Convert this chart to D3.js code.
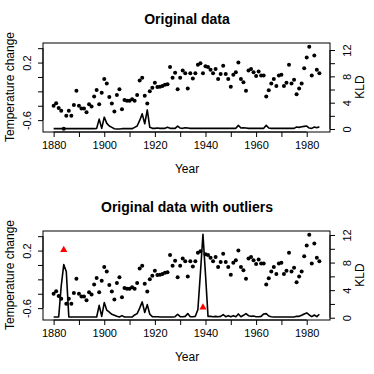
<!DOCTYPE html>
<html>
<head>
<meta charset="utf-8">
<script src="https://cdn.jsdelivr.net/npm/d3@7"></script>
<style>
  body { margin: 0; background: #fff; }
  text { font-family: "Liberation Sans", Arial, sans-serif; }
</style>
</head>
<body>
<div id="chart"></div>
<script>
// data
var years = d3.range(1880, 1986);
var temp = [
  -0.40, -0.365, -0.43, -0.47, -0.72, -0.54, -0.47, -0.54, -0.39, -0.19,
  -0.40, -0.44, -0.44, -0.49, -0.38, -0.41, -0.27, -0.18, -0.38, -0.22,
  -0.03, -0.09, -0.28, -0.37, -0.48, -0.25, -0.17, -0.45, -0.32, -0.33,
  -0.33, -0.31, -0.33, -0.25, -0.05, -0.01, -0.26, -0.37, -0.20, -0.15,
  -0.08, -0.14, -0.135, -0.125, -0.11, -0.10, 0.14, -0.01, 0.06, -0.17,
  -0.01, 0.09, 0.05, -0.16, 0.05, -0.02, 0.05, 0.17, 0.19, 0.05,
  0.15, 0.14, 0.10, 0.05, 0.11, -0.03, 0.04, 0.155, 0.04, -0.03,
  -0.135, 0.03, 0.065, 0.20, -0.03, -0.075, -0.19, 0.09, 0.11, 0.065,
  0.015, 0.075, 0.02, 0.02, -0.27, -0.185, -0.09, -0.03, -0.125, 0.02,
  0.03, -0.125, -0.08, 0.17, -0.09, -0.04, -0.24, -0.16, -0.09, 0.12,
  0.27, 0.42, 0.02, 0.30, 0.10, 0.05
];
var kldTop = [
  0.05, 0.05, 0.05, 0.05, 0.05, 0.05, 0.05, 0.05, 0.05, 0.05,
  0.05, 0.05, 0.05, 0.05, 0.05, 0.05, 0.05, 0.1, 1.5, 0.1,
  1.8, 0.86, 0.46, 0.25, 0.05, 0.0, 0.0, 0.05, 0.05, 0.05,
  0.05, 0.05, 0.25, 0.46, 1.3, 2.3, 0.8, 2.9, 0.26, 0.1,
  0.1, 0.15, 0.1, 0.1, 0.1, 0.25, 0.1, 0.1, 0.1, 0.45,
  0.15, 0.1, 0.2, 0.15, 0.1, 0.1, 0.1, 0.1, 0.1, 0.1,
  0.1, 0.1, 0.1, 0.1, 0.1, 0.1, 0.1, 0.1, 0.1, 0.1,
  0.1, 0.1, 0.1, 0.55, 0.15, 0.2, 0.15, 0.1, 0.1, 0.1,
  0.1, 0.1, 0.1, 0.1, 0.55, 0.15, 0.1, 0.1, 0.1, 0.1,
  0.1, 0.1, 0.1, 0.1, 0.1, 0.1, 0.3, 0.25, 0.35, 0.4,
  0.45, 0.15, 0.1, 0.3, 0.2, 0.35
];
var kldBottom = [
  0.1, 0.1, 0.1, 4.6, 7.7, 6.7, 0.1, 0.1, 0.1, 0.1,
  0.1, 0.1, 0.1, 0.1, 0.1, 0.1, 0.1, 0.1, 1.8, 0.2,
  2.2, 1.1, 0.8, 0.5, 0.35, 0.2, 0.1, 0.3, 0.1, 0.1,
  0.1, 0.1, 0.4, 0.6, 1.4, 2.3, 0.75, 1.9, 0.5, 0.15,
  0.15, 0.15, 0.1, 0.1, 0.1, 0.1, 0.1, 0.1, 0.15, 0.5,
  0.15, 0.15, 0.2, 0.6, 0.15, 0.15, 0.2, 1.2, 6.5, 12.1,
  6.3, 0.2, 0.2, 0.15, 0.2, 0.15, 0.2, 0.45, 0.15, 0.3,
  0.15, 0.3, 0.15, 0.55, 0.15, 0.35, 0.6, 0.3, 0.2, 0.25,
  0.15, 0.15, 0.2, 0.55, 0.6, 0.25, 0.15, 0.1, 0.1, 0.1,
  0.1, 0.1, 0.1, 0.1, 0.1, 0.1, 0.2, 0.2, 0.35, 0.55,
  0.7, 0.4, 0.15, 0.4, 0.15, 0.5
];
var outlierYears = [1884, 1939];
var outlierValues = [0.21, -0.59];

var xTicks = d3.range(1880, 1990, 10);
var xLabels = [1880, 1900, 1920, 1940, 1960, 1980];
var tempTicks = [-0.6, -0.4, -0.2, 0, 0.2, 0.4];
var tempLabels = [-0.6, 0.2];
var kldTicks = [0, 2, 4, 6, 8, 10, 12];
var kldLabels = [0, 4, 8, 12];

var W = 374, H = 374;
var svg = d3.select("#chart").append("svg")
    .attr("width", W).attr("height", H);

var x = d3.scaleLinear().domain([1875.8, 1989.2]).range([43, 330]);

function panel(top, title, kld, kldDomain, withOutliers) {
  var bottom = top + 89;
  var yT = d3.scaleLinear().domain([-0.765, 0.472]).range([bottom, top]);
  var yK = d3.scaleLinear().domain(kldDomain).range([bottom, top]);
  var g = svg.append("g");

  // title
  g.append("text").attr("x", 187).attr("y", top - 19)
    .attr("text-anchor", "middle").style("font-weight", "bold").style("font-size", "14px")
    .text(title);

  // box
  g.append("rect").attr("x", 43).attr("y", top).attr("width", 287).attr("height", 89)
    .attr("fill", "none").attr("stroke", "#000").attr("stroke-width", 1);

  // x axis
  var ax = g.append("g").attr("transform", "translate(0," + (bottom + 0) + ")")
    .call(d3.axisBottom(x).tickValues(xTicks).tickSize(5).tickPadding(4)
      .tickFormat(function(d) { return xLabels.indexOf(d) >= 0 ? d : ""; }));
  ax.select(".domain").remove();
  ax.append("line").attr("x1", x(1880)).attr("x2", x(1980)).attr("stroke", "#000");
  ax.selectAll("text").style("font-size", "11px").attr("fill", "#000")
    .style("font-family", "Liberation Sans, Arial, sans-serif");
  g.append("text").attr("x", 187).attr("y", bottom + 41)
    .attr("text-anchor", "middle").style("font-size", "12px").text("Year");

  // left axis
  var al = g.append("g").attr("transform", "translate(43,0)")
    .call(d3.axisLeft(yT).tickValues(tempTicks).tickSize(5).tickPadding(3)
      .tickFormat(function(d) { return tempLabels.indexOf(d) >= 0 ? d3.format(".1f")(d).replace("−", "-") : ""; }));
  al.select(".domain").remove();
  al.append("line").attr("y1", yT(-0.6)).attr("y2", yT(0.4)).attr("stroke", "#000");
  al.selectAll(".tick text")
    .attr("transform", "rotate(-90)").attr("x", 0).attr("dy", 0).attr("y", -12)
    .attr("text-anchor", "middle").style("font-size", "11px").attr("fill", "#000")
    .style("font-family", "Liberation Sans, Arial, sans-serif");
  g.append("text").attr("transform", "translate(14," + (top + 44) + ") rotate(-90)")
    .attr("text-anchor", "middle").style("font-size", "12px").text("Temperature change");

  // right axis
  var ar = g.append("g").attr("transform", "translate(330,0)")
    .call(d3.axisRight(yK).tickValues(kldTicks).tickSize(5)
      .tickFormat(function(d) { return kldLabels.indexOf(d) >= 0 ? d : ""; }));
  ar.select(".domain").remove();
  ar.append("line").attr("y1", yK(0)).attr("y2", yK(12)).attr("stroke", "#000");
  ar.selectAll(".tick text")
    .attr("transform", "rotate(-90)").attr("x", 0).attr("dy", 0).attr("y", 21)
    .attr("text-anchor", "middle").style("font-size", "11px").attr("fill", "#000")
    .style("font-family", "Liberation Sans, Arial, sans-serif");
  g.append("text").attr("transform", "translate(364," + (top + 44) + ") rotate(-90)")
    .attr("text-anchor", "middle").style("font-size", "12px").text("KLD");

  // KLD line
  var line = d3.line().x(function(d, i) { return x(years[i]); }).y(function(d) { return yK(d); });
  g.append("path").datum(kld).attr("d", line)
    .attr("fill", "none").attr("stroke", "#000").attr("stroke-width", 1.6)
    .attr("stroke-linejoin", "round");

  // points
  var pts = years.map(function(yr, i) { return { yr: yr, v: temp[i] }; })
    .filter(function(d) { return !withOutliers || outlierYears.indexOf(d.yr) < 0; });
  g.selectAll("circle.pt").data(pts).enter().append("circle")
    .attr("cx", function(d) { return x(d.yr); })
    .attr("cy", function(d) { return yT(d.v); })
    .attr("r", 2).attr("fill", "#000");

  if (withOutliers) {
    var tri = d3.symbol().type(d3.symbolTriangle).size(22);
    g.selectAll("path.out").data(outlierYears).enter().append("path")
      .attr("d", tri)
      .attr("transform", function(d, i) { return "translate(" + x(d) + "," + yT(outlierValues[i]) + ")"; })
      .attr("fill", "#ff0000");
  }
}

panel(43, "Original data", kldTop, [-0.456, 13.07], false);
panel(231, "Original data with outliers", kldBottom, [-0.33, 12.58], true);
</script>
</body>
</html>
